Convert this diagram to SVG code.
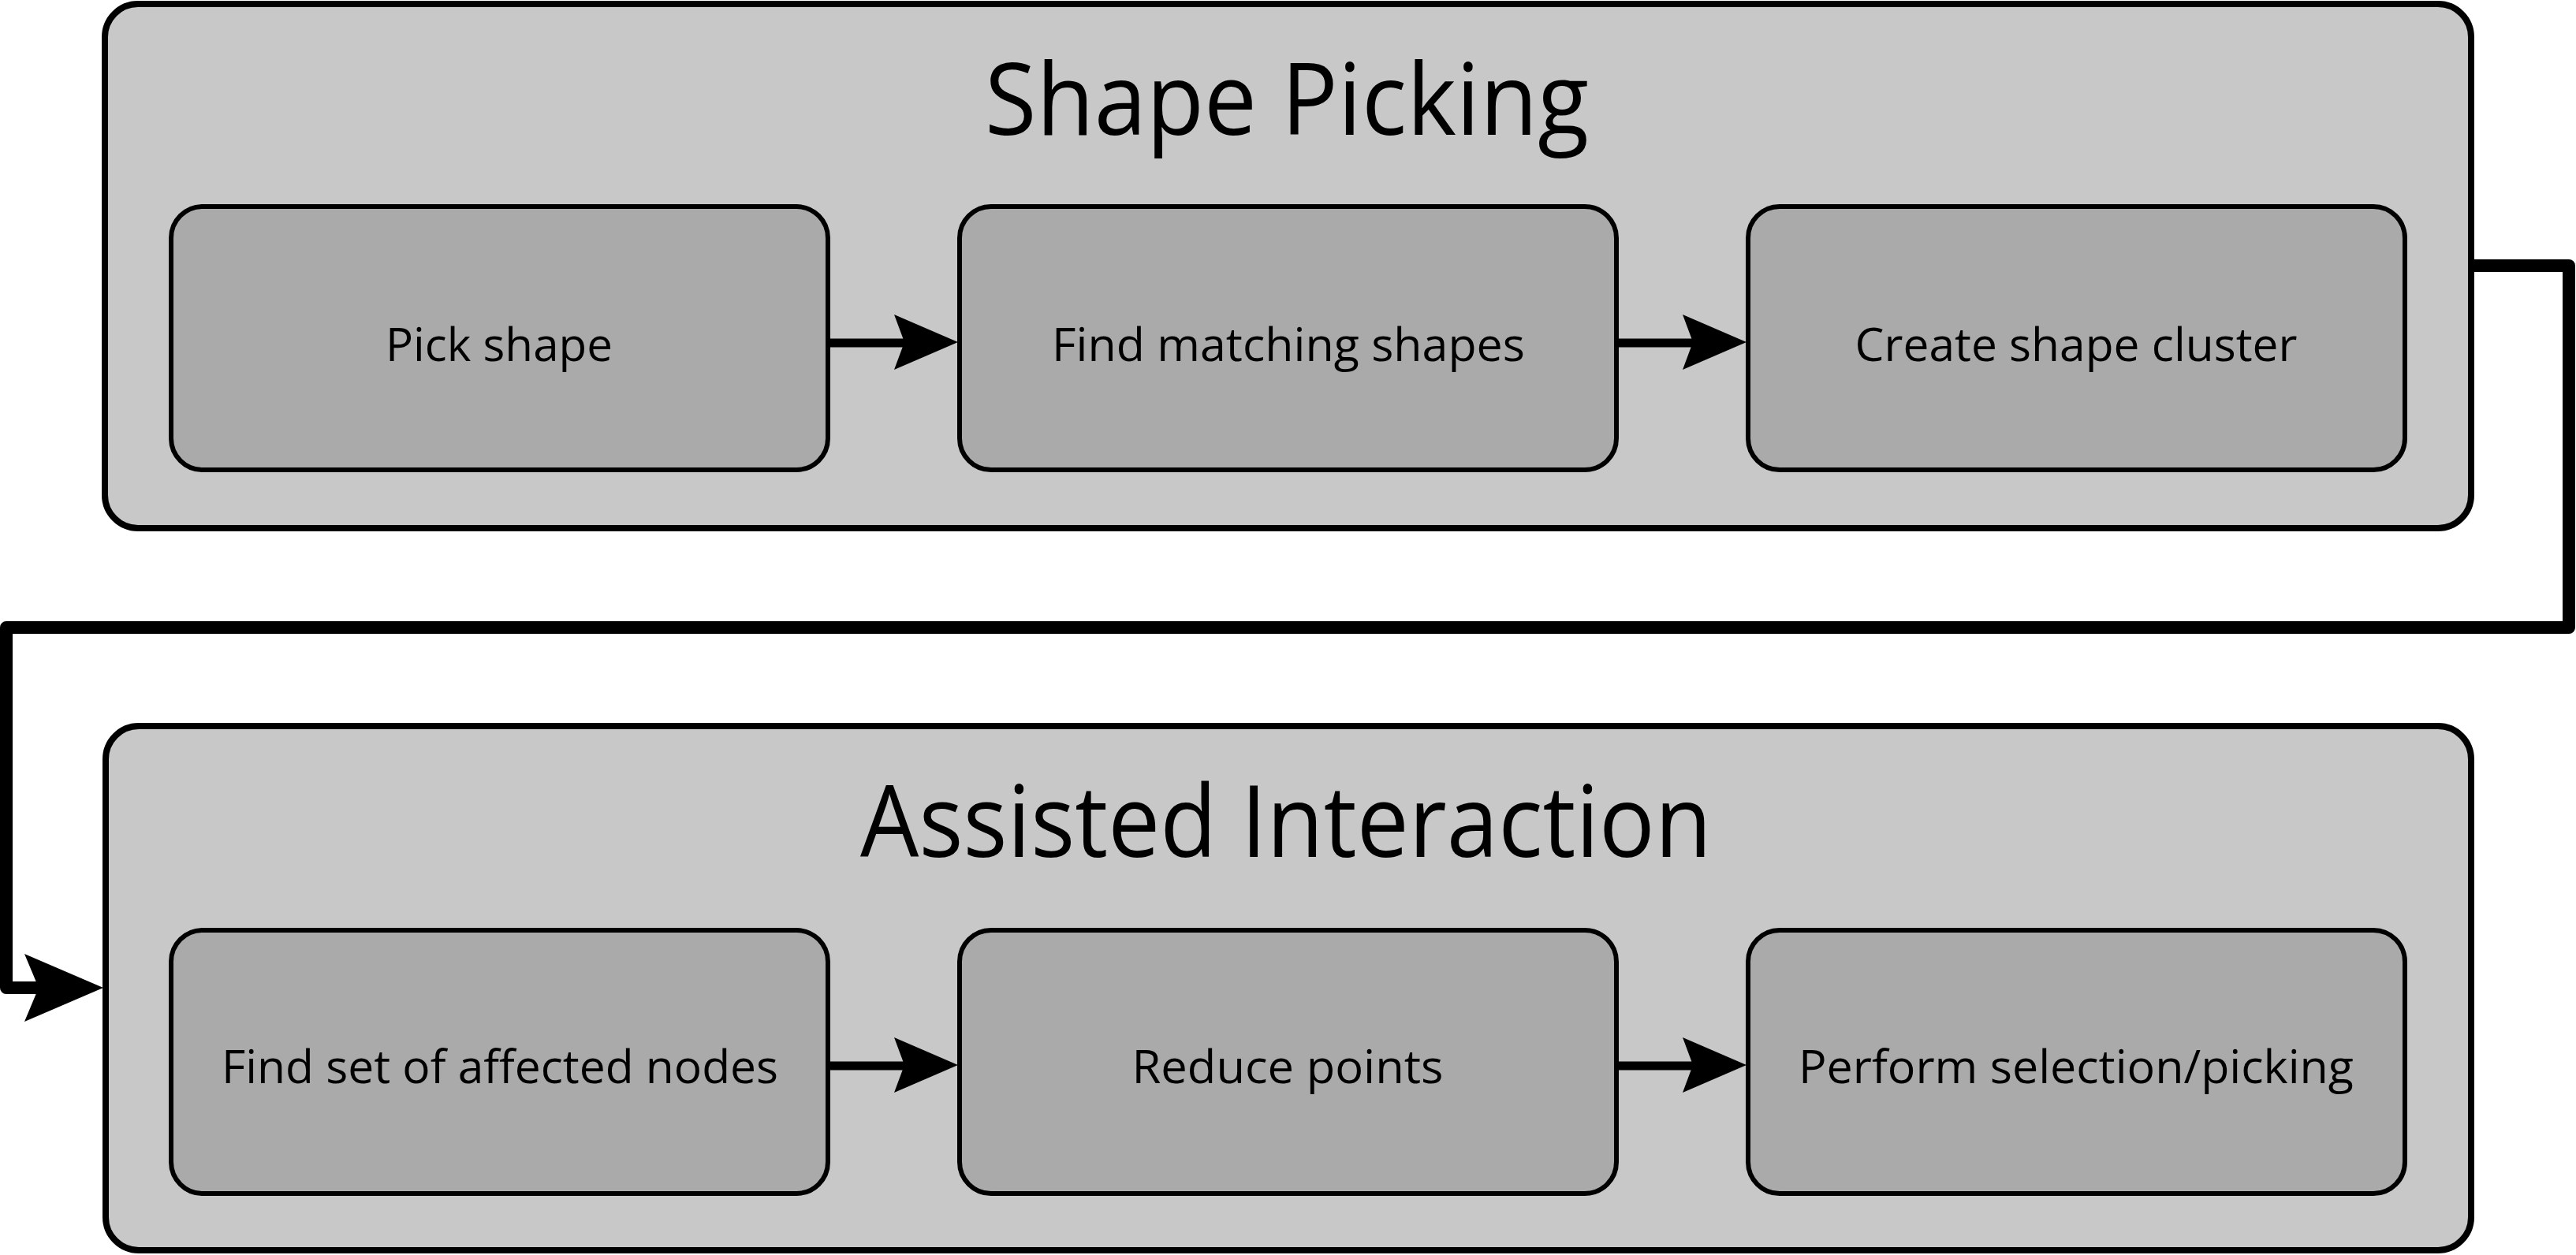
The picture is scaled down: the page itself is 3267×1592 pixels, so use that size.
<svg xmlns="http://www.w3.org/2000/svg" width="3267" height="1592" viewBox="0 0 3267 1592">
<style>
.outer{fill:#c8c8c8;stroke:#000;stroke-width:8}
.inner{fill:#aaaaaa;stroke:#000;stroke-width:6}
.title{font-family:"Open Sans","Noto Sans",sans-serif;font-size:127px;fill:#000;text-anchor:middle}
.label{font-family:"Open Sans","Noto Sans",sans-serif;font-size:59px;fill:#000;text-anchor:middle}
.conn{fill:none;stroke:#000;stroke-width:11}
.loop{fill:none;stroke:#000;stroke-width:16;stroke-linejoin:round}
.head{fill:#000;stroke:none}
</style>
<rect width="3267" height="1592" fill="#fff"/>
<g id="shape-picking">
<rect class="outer" x="133" y="5" width="3001" height="665" rx="42"/>
<text class="title" x="1632" y="171" textLength="766" lengthAdjust="spacingAndGlyphs">Shape Picking</text>
</g>
<g id="pick-shape">
<rect class="inner" x="217" y="262" width="833" height="334" rx="40"/>
<text class="label" x="633" y="458" textLength="288" lengthAdjust="spacingAndGlyphs">Pick shape</text>
</g>
<g id="find-matching-shapes">
<rect class="inner" x="1217" y="262" width="833" height="334" rx="40"/>
<text class="label" x="1634" y="458" textLength="600" lengthAdjust="spacingAndGlyphs">Find matching shapes</text>
</g>
<g id="create-shape-cluster">
<rect class="inner" x="2217" y="262" width="833" height="334" rx="40"/>
<text class="label" x="2633" y="458" textLength="561" lengthAdjust="spacingAndGlyphs">Create shape cluster</text>
</g>
<g id="assisted-interaction">
<rect class="outer" x="134" y="921" width="3000" height="665" rx="42"/>
<text class="title" x="1631" y="1087" textLength="1080" lengthAdjust="spacingAndGlyphs">Assisted Interaction</text>
</g>
<g id="find-set-of-affected-nodes">
<rect class="inner" x="217" y="1180" width="833" height="334" rx="40"/>
<text class="label" x="634" y="1374" textLength="706" lengthAdjust="spacingAndGlyphs">Find set of affected nodes</text>
</g>
<g id="reduce-points">
<rect class="inner" x="1217" y="1180" width="833" height="334" rx="40"/>
<text class="label" x="1633" y="1374" textLength="395" lengthAdjust="spacingAndGlyphs">Reduce points</text>
</g>
<g id="perform-selection-picking">
<rect class="inner" x="2217" y="1180" width="833" height="334" rx="40"/>
<text class="label" x="2633" y="1374" textLength="704" lengthAdjust="spacingAndGlyphs">Perform selection/picking</text>
</g>
<g id="connectors">
<line class="conn" x1="1050" y1="435" x2="1150" y2="435"/>
<polygon class="head" points="1215,434 1134,399 1147,434 1134,469"/>
<line class="conn" x1="2050" y1="435" x2="2150" y2="435"/>
<polygon class="head" points="2215,434 2134,399 2147,434 2134,469"/>
<line class="conn" x1="1050" y1="1352" x2="1150" y2="1352"/>
<polygon class="head" points="1215,1351 1134,1316 1147,1351 1134,1386"/>
<line class="conn" x1="2050" y1="1352" x2="2150" y2="1352"/>
<polygon class="head" points="2215,1351 2134,1316 2147,1351 2134,1386"/>
<path class="loop" d="M3134 337 H3258 V796 H8 V1253 H52"/>
<polygon class="head" points="131,1253 31,1210 49,1253 31,1296"/>
</g>
</svg>
